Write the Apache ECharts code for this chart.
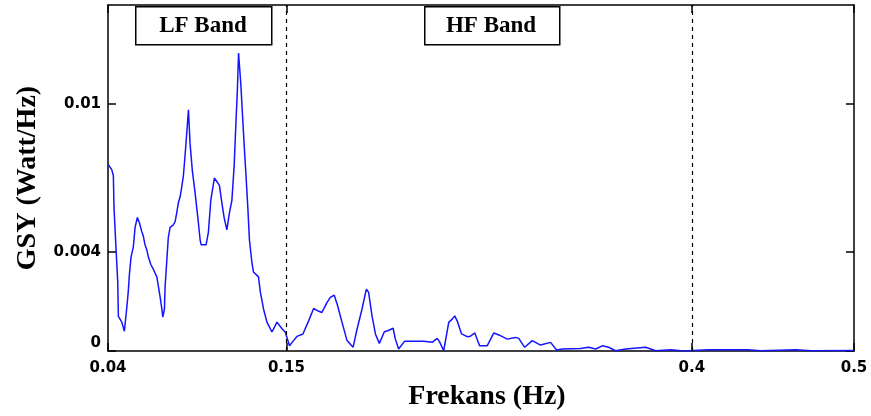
<!DOCTYPE html>
<html>
<head>
<meta charset="utf-8">
<script src="https://cdn.jsdelivr.net/npm/echarts@6/dist/echarts.min.js"></script>
<style>
html,body{margin:0;padding:0;background:#fff;}
#chart{width:871px;height:416px;}
</style>
</head>
<body>
<div id="chart"></div>
<script>
// Frequencies (Hz) and spectral density (Watt/Hz)
const freqs = [0.0402,0.0423,0.0433,0.0437,0.0449,0.0460,0.0464,0.0485,0.0501,0.0515,0.0525,0.0532,0.0542,0.0556,0.0567,0.0581,0.0593,0.0608,0.0618,0.0628,0.0639,0.0649,0.0664,0.0680,0.0701,0.0711,0.0721,0.0732,0.0738,0.0748,0.0752,0.0762,0.0772,0.0783,0.0803,0.0814,0.0824,0.0834,0.0845,0.0855,0.0865,0.0875,0.0890,0.0896,0.0906,0.0920,0.0937,0.0954,0.0968,0.0974,0.1005,0.1019,0.1034,0.1056,0.1087,0.1102,0.1116,0.1133,0.1149,0.1164,0.1178,0.1188,0.1198,0.1205,0.1215,0.1219,0.1229,0.1240,0.1250,0.1263,0.1272,0.1287,0.1297,0.1328,0.1339,0.1359,0.1380,0.1411,0.1442,0.1473,0.1493,0.1519,0.1544,0.1565,0.1602,0.1637,0.1668,0.1692,0.1719,0.1750,0.1771,0.1795,0.1816,0.1843,0.1874,0.1911,0.1936,0.1966,0.1993,0.2007,0.2028,0.2049,0.2073,0.2104,0.2125,0.2158,0.2172,0.2192,0.2228,0.2347,0.2399,0.2430,0.2444,0.2470,0.2501,0.2522,0.2538,0.2553,0.2580,0.2615,0.2635,0.2662,0.2691,0.2738,0.2779,0.2810,0.2862,0.2913,0.2933,0.2969,0.3016,0.3067,0.3129,0.3166,0.3201,0.3314,0.3364,0.3407,0.3448,0.3487,0.3530,0.3592,0.3716,0.3777,0.3870,0.3950,0.4104,0.4222,0.4345,0.4426,0.4642,0.4735,0.5000];
const psd = [0.00754,0.00734,0.00710,0.00580,0.00420,0.00280,0.00140,0.00117,0.00080,0.00170,0.00240,0.00310,0.00380,0.00420,0.00500,0.00540,0.00520,0.00484,0.00464,0.00430,0.00410,0.00380,0.00350,0.00330,0.00300,0.00260,0.00220,0.00170,0.00137,0.00170,0.00260,0.00360,0.00460,0.00500,0.00510,0.00524,0.00560,0.00600,0.00625,0.00665,0.00710,0.00790,0.00920,0.00976,0.00840,0.00730,0.00640,0.00540,0.00450,0.00430,0.00430,0.00480,0.00610,0.00700,0.00670,0.00600,0.00540,0.00490,0.00560,0.00610,0.00750,0.00910,0.01060,0.01206,0.01206,0.01080,0.00960,0.00830,0.00720,0.00570,0.00450,0.00360,0.00320,0.00300,0.00240,0.00170,0.00117,0.00077,0.00117,0.00090,0.00077,0.00021,0.00042,0.00059,0.00069,0.00122,0.00172,0.00163,0.00156,0.00196,0.00217,0.00226,0.00183,0.00116,0.00042,0.00015,0.00089,0.00169,0.00250,0.00237,0.00142,0.00069,0.00031,0.00078,0.00082,0.00092,0.00048,0.00008,0.00039,0.00039,0.00035,0.00051,0.00038,0.00001,0.00116,0.00129,0.00142,0.00122,0.00069,0.00058,0.00060,0.00073,0.00021,0.00021,0.00073,0.00065,0.00048,0.00055,0.00051,0.00015,0.00042,0.00024,0.00035,0.00004,0.00008,0.00010,0.00015,0.00008,0.00021,0.00015,0.00001,0.00008,0.00015,0.00001,0.00005,0.00000,0.00005,0.00005,0.00005,0.00001,0.00005,0.00001,0.00002];
const xTicks = [0.04, 0.15, 0.4, 0.5];
const yTicks = [0, 0.004, 0.01];
const bandEdges = [0.15, 0.4];
const bandLabels = ['LF Band', 'HF Band'];
const xTitle = 'Frekans (Hz)';
const yTitle = 'GSY (Watt/Hz)';

const chart = echarts.init(document.getElementById('chart'));
const lineData = freqs.map((f, i) => [f, psd[i]]);
const axisCol = '#000';
const tickFont = { fontFamily: 'DejaVu Sans', fontWeight: 'bold', fontSize: 15, color: '#000' };
const titleFont = { fontFamily: 'Liberation Serif', fontWeight: 'bold', fontSize: 28, color: '#000' };

chart.setOption({
  animation: false,
  backgroundColor: '#fff',
  grid: { left: 108, right: 17, top: 5, bottom: 64 },
  xAxis: [{
    type: 'value', min: 0.04, max: 0.5, position: 'bottom',
    axisLine: { show: true, onZero: false, lineStyle: { color: axisCol, width: 1.5 } },
    axisTick: { show: true, inside: true, length: 8, customValues: xTicks, lineStyle: { color: axisCol, width: 1.5 } },
    axisLabel: Object.assign({ customValues: xTicks, margin: 10, formatter: v => String(+v.toFixed(2)) }, tickFont),
    splitLine: { show: false },
    name: xTitle, nameLocation: 'middle', nameGap: 32,
    nameTextStyle: Object.assign({ padding: [0, 0, 0, 12] }, titleFont)
  }, {
    type: 'value', min: 0.04, max: 0.5, position: 'top',
    axisLine: { show: true, onZero: false, lineStyle: { color: axisCol, width: 1.5 } },
    axisTick: { show: true, inside: true, length: 8, customValues: xTicks, lineStyle: { color: axisCol, width: 1.5 } },
    axisLabel: { show: false }, splitLine: { show: false }
  }],
  yAxis: [{
    type: 'value', min: 0, max: 0.014, position: 'left',
    axisLine: { show: true, onZero: false, lineStyle: { color: axisCol, width: 1.5 } },
    axisTick: { show: true, inside: true, length: 8, customValues: yTicks, lineStyle: { color: axisCol, width: 1.5 } },
    axisLabel: Object.assign({
      customValues: yTicks, margin: 7,
      formatter: v => v === 0 ? '{z|0}' : String(+v.toFixed(3)),
      rich: { z: Object.assign({ padding: [0, 0, 16, 0] }, tickFont) }
    }, tickFont),
    splitLine: { show: false },
    name: yTitle, nameLocation: 'middle', nameGap: 66,
    nameTextStyle: titleFont
  }, {
    type: 'value', min: 0, max: 0.014, position: 'right',
    axisLine: { show: true, onZero: false, lineStyle: { color: axisCol, width: 1.5 } },
    axisTick: { show: true, inside: true, length: 8, customValues: yTicks, lineStyle: { color: axisCol, width: 1.5 } },
    axisLabel: { show: false }, splitLine: { show: false }
  }],
  series: [{
    type: 'line', xAxisIndex: 0, yAxisIndex: 0,
    data: lineData, showSymbol: false, symbol: 'none',
    lineStyle: { color: '#1414ff', width: 1.5 },
    markLine: {
      silent: true, symbol: 'none', label: { show: false },
      lineStyle: { color: '#000', type: [4, 4], width: 1.2 },
      data: bandEdges.map(x => ({ xAxis: x }))
    }
  }],
  graphic: [
    { type: 'rect', left: 135, top: 6, shape: { width: 136, height: 38 },
      style: { fill: '#fff', stroke: '#000', lineWidth: 1.5 }, z: 10 },
    { type: 'text', x: 203, y: 26, style: { text: bandLabels[0], x: 0, y: 0, align: 'center', verticalAlign: 'middle',
      font: 'bold 23px "Liberation Serif"', fill: '#000' }, z: 11 },
    { type: 'rect', left: 424, top: 6, shape: { width: 135, height: 38 },
      style: { fill: '#fff', stroke: '#000', lineWidth: 1.5 }, z: 10 },
    { type: 'text', x: 491, y: 26, style: { text: bandLabels[1], x: 0, y: 0, align: 'center', verticalAlign: 'middle',
      font: 'bold 23px "Liberation Serif"', fill: '#000' }, z: 11 }
  ]
});
</script>
</body>
</html>
